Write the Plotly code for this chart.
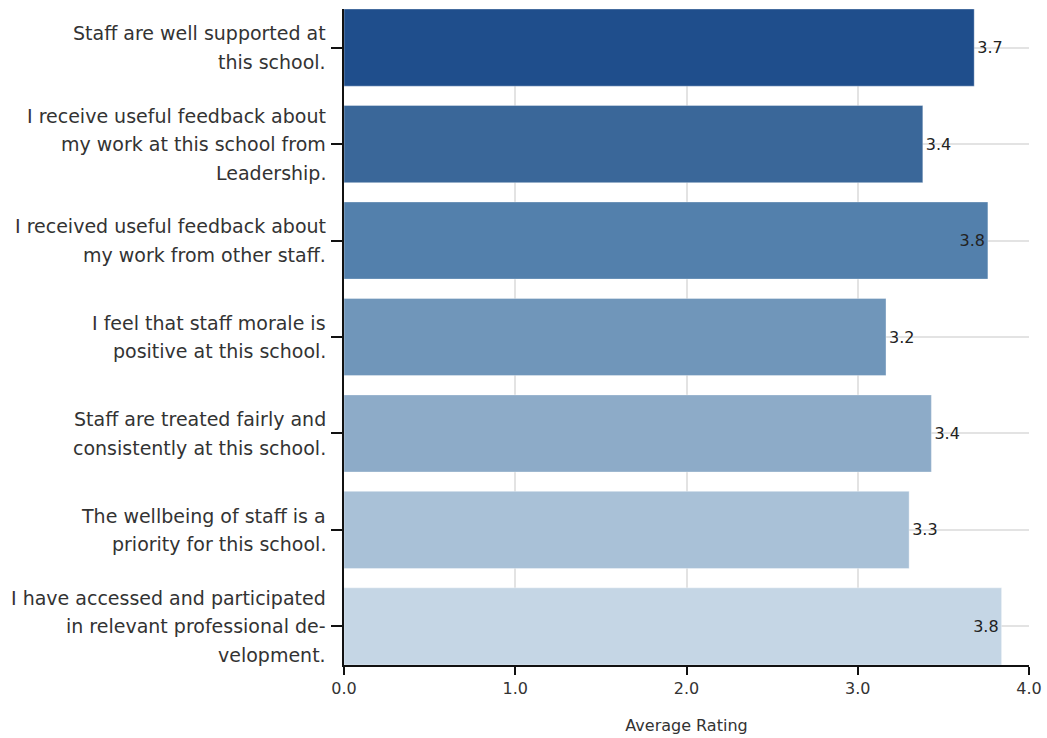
import plotly.graph_objects as go

# Survey statements (line breaks mark where each label wraps)
statements = [
    "Staff are well supported at<br>this school.",
    "I receive useful feedback about<br>my work at this school from<br>Leadership.",
    "I received useful feedback about<br>my work from other staff.",
    "I feel that staff morale is<br>positive at this school.",
    "Staff are treated fairly and<br>consistently at this school.",
    "The wellbeing of staff is a<br>priority for this school.",
    "I have accessed and participated<br>in relevant professional de-<br>velopment.",
]
avg_rating = [3.68, 3.38, 3.76, 3.165, 3.43, 3.30, 3.84]
bar_colors = ["#1f4e8c", "#3a6799", "#5380ac", "#7096ba", "#8dabc8", "#a9c1d7", "#c5d6e5"]
label_positions = ["outside", "outside", "inside", "outside", "outside", "outside", "inside"]
x_ticks = [0, 1, 2, 3, 4]
x_tick_text = ["0.0", "1.0", "2.0", "3.0", "4.0"]

FONT = "DejaVu Sans"
TEXT_COLOR = "#333333"
LINE_GAP = 28.5

fig = go.Figure()
fig.add_trace(go.Bar(
    x=avg_rating,
    y=list(range(len(statements))),
    orientation="h",
    marker=dict(color=bar_colors, line=dict(color="rgba(255,255,255,0.35)", width=1)),
    text=[f"{v:.1f}" for v in avg_rating],
    textposition=label_positions,
    insidetextanchor="end",
    textfont=dict(family=FONT, size=16, color="#222222"),
    cliponaxis=False,
    hoverinfo="skip",
))

# Category labels, one text line at a time for even line spacing
annotations = []
for i, label in enumerate(statements):
    lines = label.split("<br>")
    n = len(lines)
    for k, line in enumerate(lines):
        annotations.append(dict(
            x=0, xref="paper", y=i, yref="y",
            text=line, showarrow=False,
            xanchor="right", yanchor="middle",
            xshift=-16, yshift=((n - 1) / 2 - k) * LINE_GAP,
            font=dict(family=FONT, size=19, color=TEXT_COLOR),
        ))

fig.update_layout(
    width=1047, height=738,
    margin=dict(l=344, r=18, t=9, b=73),
    paper_bgcolor="white", plot_bgcolor="white",
    bargap=0.2,
    showlegend=False,
    annotations=annotations,
    xaxis=dict(
        range=[0, 4], tickvals=x_ticks, ticktext=x_tick_text,
        automargin=False,
        showgrid=True, gridcolor="#e3e3e3", gridwidth=1.5,
        zeroline=False, showline=True, linecolor="#111111", linewidth=1.5,
        ticks="outside", ticklen=8, tickcolor="#111111", tickwidth=1.5,
        tickfont=dict(family=FONT, size=16, color=TEXT_COLOR),
        title=dict(text="Average Rating", font=dict(family=FONT, size=16, color=TEXT_COLOR), standoff=23),
        fixedrange=True,
    ),
    yaxis=dict(
        range=[6.4, -0.4], tickvals=list(range(len(statements))),
        automargin=False,
        showticklabels=False,
        showgrid=True, gridcolor="#e3e3e3", gridwidth=1.5,
        zeroline=False, showline=True, linecolor="#111111", linewidth=1.5,
        ticks="outside", ticklen=11, tickcolor="#111111", tickwidth=1.5,
        fixedrange=True,
    ),
)

fig.write_html("out.html")
